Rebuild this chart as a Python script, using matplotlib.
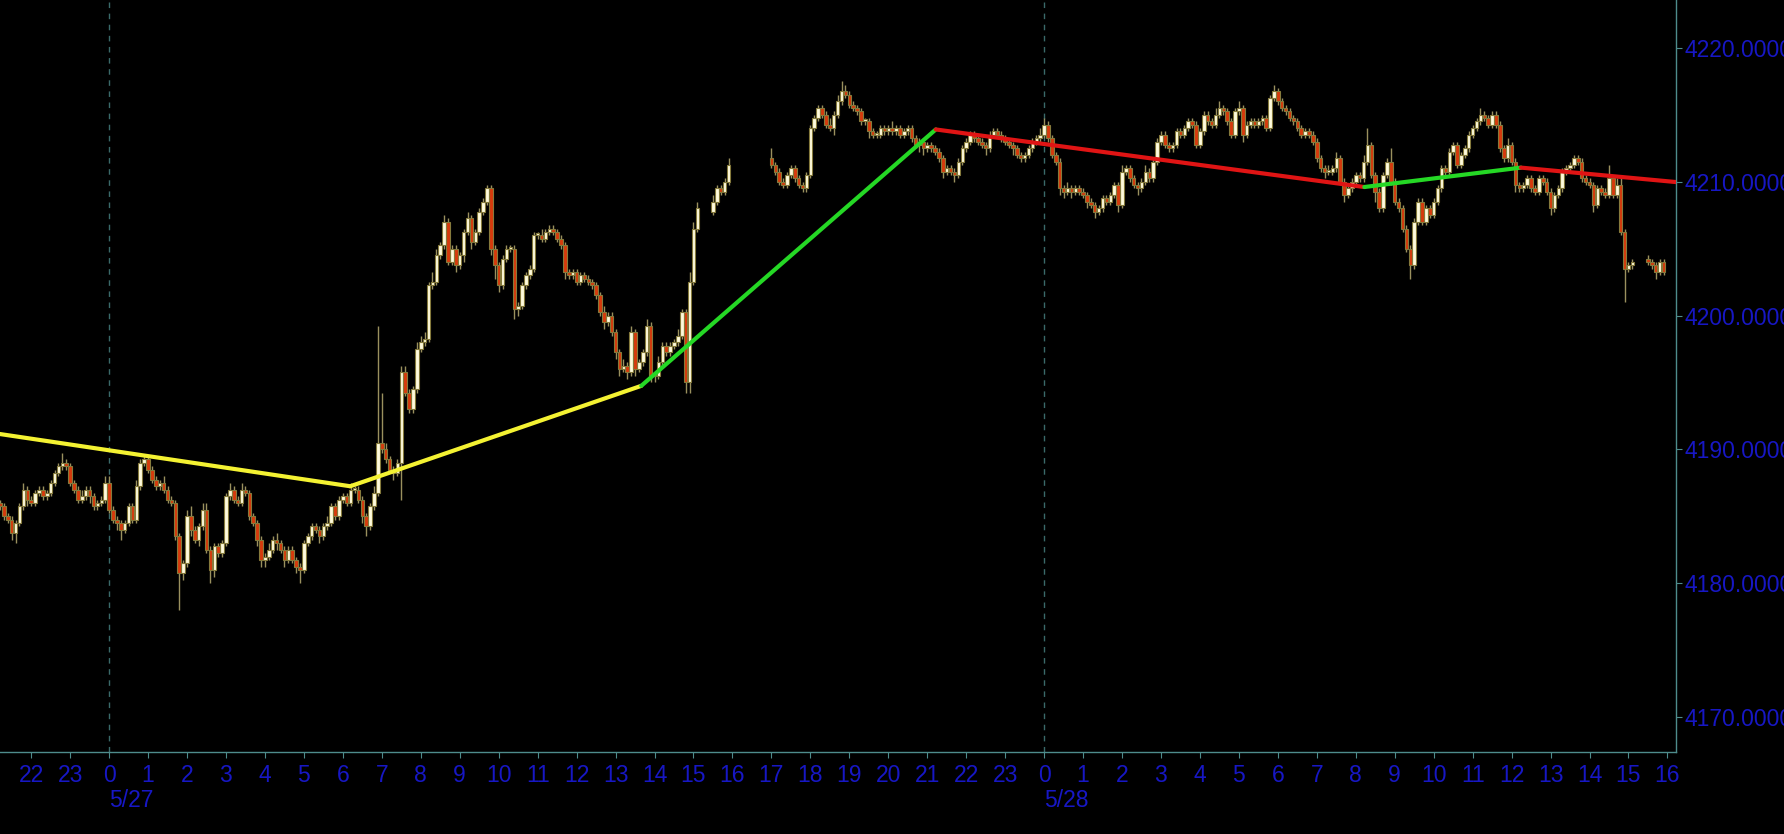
import numpy as np
import matplotlib.pyplot as plt

# 6-minute bars, time axis in hours from 5/27 00:00
# session starts (CME halts 15:15-15:30 and 16:00-17:00)
start_a, start_b, start_c, start_d = -2.8, 15.5, 17.0, 39.5
open_a, open_b, open_c, open_d = 4186.0, 4207.75, 4211.75, 4204.25

close_a = [
    4185.75, 4185.0, 4184.75, 4183.75, 4184.5, 4185.75, 4187.0, 4186.25, 4186.0, 4186.75,
    4187.0, 4186.5, 4186.75, 4187.5, 4188.25, 4188.75, 4189.0, 4188.75, 4187.5, 4187.0,
    4186.25, 4186.5, 4187.0, 4186.5, 4185.75, 4186.0, 4186.25, 4187.5,
    4185.5, 4184.75, 4184.5, 4184.0, 4184.5, 4185.75, 4184.75, 4187.25, 4189.0, 4189.25,  # 0
    4188.5, 4187.75, 4187.25, 4187.5, 4187.0, 4186.25, 4186.0, 4183.5, 4180.75, 4181.5,  # 1
    4185.0, 4184.0, 4183.25, 4184.25, 4185.5, 4182.5, 4181.0, 4182.75, 4182.25, 4183.0,  # 2
    4186.5, 4187.0, 4186.25, 4186.0, 4187.0, 4186.75, 4185.0, 4184.5, 4183.25, 4181.75,  # 3
    4182.0, 4182.5, 4183.25, 4183.0, 4182.5, 4181.75, 4182.5, 4181.75, 4181.25, 4181.0,  # 4
    4183.0, 4183.5, 4184.25, 4184.0, 4183.5, 4184.25, 4184.5, 4185.75, 4185.0, 4186.25,  # 5
    4186.5, 4186.0, 4187.0, 4187.0, 4186.25, 4185.0, 4184.25, 4185.75, 4186.75, 4190.5,  # 6
    4190.0, 4189.25, 4188.5, 4188.25, 4189.0, 4195.75, 4194.25, 4193.0, 4194.5, 4197.5,  # 7
    4198.0, 4198.25, 4202.25, 4202.5, 4204.5, 4205.25, 4207.0, 4204.0, 4205.0, 4203.75,  # 8
    4204.5, 4206.25, 4207.25, 4205.5, 4206.25, 4207.75, 4208.5, 4209.5, 4205.0, 4203.75,  # 9
    4202.25, 4204.25, 4205.0, 4205.0, 4200.5, 4200.75, 4202.25, 4203.0, 4203.5, 4206.0,  # 10
    4206.0, 4205.75, 4206.25, 4206.5, 4206.25, 4205.75, 4205.25, 4203.25, 4203.0, 4203.25,  # 11
    4202.5, 4203.0, 4202.75, 4202.5, 4202.25, 4201.5, 4200.25, 4199.5, 4200.0, 4198.75,  # 12
    4197.25, 4196.0, 4196.25, 4195.75, 4198.75, 4196.0, 4196.5, 4197.25, 4199.25, 4195.5,  # 13
    4195.5, 4196.5, 4197.75, 4197.25, 4197.75, 4198.0, 4198.5, 4200.25, 4195.0, 4202.5,  # 14
    4206.5, 4208.0,
]
up_a = [
    1, 1, 1, 1, 1, 1, 2, 1, 1, 1, 1, 1, 1, 1, 1, 1, 3, 1, 1, 1, 1, 2, 1, 1, 1, 1, 1, 2,
    2, 1, 1, 1, 1, 1, 1, 2, 1, 1,
    1, 1, 1, 1, 2, 1, 1, 1, 1, 1,
    2, 3, 1, 1, 2, 2, 1, 1, 1, 1,
    1, 2, 1, 1, 2, 1, 1, 1, 1, 1,
    1, 2, 1, 2, 1, 1, 1, 1, 1, 1,
    1, 1, 1, 1, 1, 1, 2, 1, 1, 1,
    1, 1, 2, 1, 1, 1, 1, 1, 2, 35,
    15, 2, 1, 1, 1, 2, 2, 1, 1, 2,
    2, 2, 1, 3, 2, 1, 2, 1, 1, 1,
    1, 1, 2, 1, 1, 1, 1, 1, 1, 1,
    1, 1, 1, 1, 1, 1, 1, 1, 1, 1,
    1, 2, 1, 1, 1, 1, 1, 1, 1, 1,
    1, 1, 1, 1, 1, 1, 1, 2, 1, 1,
    1, 1, 2, 1, 2, 1, 1, 1, 2, 1,
    1, 2, 1, 1, 1, 1, 2, 1, 1, 3,
    2, 2,
]
dn_a = [
    1, 1, 1, 2, 3, 1, 1, 2, 1, 1, 1, 1, 1, 1, 1, 1, 1, 1, 1, 1, 1, 1, 1, 2, 1, 1, 1, 1,
    1, 1, 2, 3, 1, 1, 1, 1, 1, 1,
    1, 1, 1, 1, 1, 1, 1, 1, 11, 2,
    1, 2, 1, 2, 1, 1, 4, 2, 1, 1,
    1, 1, 1, 1, 1, 1, 1, 1, 2, 2,
    2, 1, 1, 2, 1, 2, 1, 1, 2, 4,
    1, 1, 1, 1, 2, 1, 1, 1, 1, 1,
    1, 1, 1, 1, 1, 2, 3, 1, 1, 1,
    1, 1, 1, 2, 1, 11, 1, 1, 1, 1,
    1, 1, 1, 1, 1, 1, 1, 1, 1, 2,
    1, 2, 1, 2, 1, 1, 1, 1, 2, 4,
    2, 1, 1, 1, 3, 2, 1, 1, 1, 1,
    1, 1, 1, 1, 1, 1, 1, 2, 1, 1,
    1, 1, 1, 1, 1, 1, 1, 2, 1, 1,
    2, 2, 1, 2, 1, 2, 1, 1, 1, 2,
    2, 1, 1, 1, 1, 1, 1, 1, 3, 3,
    1, 1,
]

close_b = [4208.5, 4209.5, 4209.25, 4210.0, 4211.25]
up_b = [2, 1, 1, 1, 2]
dn_b = [1, 1, 1, 1, 1]

close_c = [
    4211.25, 4210.75, 4210.0, 4209.75, 4210.5, 4211.0, 4210.25, 4209.75, 4209.5, 4210.5,  # 17
    4214.0, 4214.75, 4215.5, 4215.0, 4214.25, 4214.0, 4215.0, 4216.0, 4216.75, 4216.5,  # 18
    4215.75, 4215.5, 4215.25, 4214.5, 4214.5, 4213.75, 4213.5, 4213.5, 4214.0, 4213.75,  # 19
    4214.0, 4213.75, 4214.0, 4213.5, 4213.75, 4214.0, 4213.25, 4212.75, 4213.0, 4212.5,  # 20
    4212.75, 4212.5, 4212.25, 4211.75, 4210.75, 4211.0, 4210.75, 4210.5, 4211.5, 4212.5,  # 21
    4213.0, 4213.5, 4213.25, 4213.0, 4212.75, 4212.5, 4213.5, 4213.75, 4213.5, 4213.25,  # 22
    4213.0, 4212.75, 4212.5, 4212.0, 4211.75, 4212.0, 4212.5, 4213.0, 4213.25, 4213.5,  # 23
    4214.25, 4213.25, 4212.0, 4211.5, 4209.5, 4209.25, 4209.5, 4209.25, 4209.5, 4209.25,  # 0
    4209.0, 4208.5, 4208.25, 4207.75, 4208.0, 4208.75, 4208.5, 4209.0, 4209.75, 4208.25,  # 1
    4210.75, 4211.0, 4210.25, 4209.75, 4209.5, 4210.0, 4210.75, 4210.25, 4211.5, 4213.0,  # 2
    4213.5, 4212.75, 4212.5, 4212.75, 4213.75, 4213.5, 4214.0, 4214.5, 4214.25, 4212.75,  # 3
    4213.75, 4215.0, 4214.5, 4214.25, 4215.0, 4215.5, 4215.25, 4214.5, 4213.5, 4215.25,  # 4
    4215.5, 4213.5, 4214.25, 4214.5, 4214.25, 4214.5, 4214.75, 4214.0, 4216.25, 4216.75,  # 5
    4216.0, 4215.5, 4215.25, 4214.75, 4214.5, 4214.0, 4213.5, 4213.75, 4213.5, 4213.0,  # 6
    4211.75, 4211.0, 4210.75, 4210.75, 4211.0, 4211.75, 4210.0, 4209.0, 4209.5, 4210.0,  # 7
    4210.5, 4210.25, 4211.5, 4212.75, 4210.5, 4209.25, 4208.0, 4210.5, 4211.5, 4210.0,  # 8
    4208.5, 4208.0, 4206.5, 4205.0, 4203.75, 4207.0, 4208.5, 4207.0, 4208.0, 4207.5,  # 9
    4208.5, 4209.5, 4211.0, 4210.75, 4212.25, 4212.75, 4211.25, 4212.0, 4212.5, 4213.5,  # 10
    4214.0, 4214.5, 4215.0, 4214.75, 4214.25, 4215.0, 4214.25, 4212.5, 4211.75, 4212.75,  # 11
    4211.5, 4209.75, 4209.5, 4209.75, 4210.25, 4209.5, 4209.25, 4210.25, 4210.0, 4209.25,  # 12
    4208.0, 4209.0, 4209.5, 4210.75, 4211.0, 4211.25, 4211.75, 4211.5, 4210.25, 4210.0,  # 13
    4209.75, 4208.25, 4209.5, 4209.25, 4209.0, 4210.25, 4209.0, 4209.75, 4206.25, 4203.5,  # 14
    4203.75, 4204.0,
]
up_c = [
    3, 1, 1, 1, 1, 1, 1, 1, 1, 1,
    1, 1, 1, 1, 1, 2, 1, 2, 3, 2,
    1, 1, 1, 1, 1, 1, 1, 1, 1, 1,
    1, 2, 1, 1, 1, 1, 1, 1, 1, 1,
    1, 1, 1, 1, 1, 1, 1, 1, 1, 1,
    1, 1, 1, 1, 1, 1, 1, 1, 1, 1,
    1, 1, 1, 1, 1, 1, 1, 1, 1, 2,
    2, 1, 1, 1, 1, 1, 2, 1, 1, 1,
    1, 1, 1, 1, 1, 1, 1, 1, 1, 1,
    2, 1, 1, 1, 1, 1, 2, 1, 1, 1,
    1, 1, 1, 1, 1, 1, 1, 1, 1, 1,
    1, 1, 1, 1, 2, 2, 1, 1, 1, 1,
    2, 1, 1, 1, 1, 1, 1, 1, 1, 2,
    1, 1, 1, 1, 1, 1, 1, 1, 1, 1,
    1, 1, 1, 2, 1, 2, 1, 1, 1, 1,
    1, 1, 2, 5, 1, 1, 1, 1, 1, 4,
    1, 1, 1, 1, 1, 1, 1, 1, 1, 1,
    1, 1, 1, 1, 1, 1, 1, 1, 1, 1,
    1, 1, 2, 1, 1, 1, 1, 1, 1, 2,
    1, 1, 1, 1, 1, 1, 1, 1, 1, 1,
    1, 1, 1, 1, 1, 1, 1, 1, 1, 1,
    1, 1, 1, 1, 1, 4, 1, 2, 3, 1,
    1, 1,
]
dn_c = [
    1, 1, 1, 1, 1, 1, 1, 1, 1, 1,
    1, 1, 1, 1, 1, 1, 2, 1, 1, 1,
    1, 1, 1, 1, 1, 2, 1, 1, 1, 1,
    1, 1, 1, 1, 1, 1, 1, 1, 2, 2,
    1, 1, 1, 1, 2, 1, 1, 2, 1, 1,
    1, 1, 1, 1, 1, 2, 1, 1, 1, 1,
    1, 1, 2, 1, 1, 1, 1, 1, 1, 1,
    1, 1, 1, 1, 2, 2, 1, 2, 1, 1,
    1, 2, 1, 2, 1, 1, 1, 1, 1, 2,
    1, 1, 1, 1, 2, 1, 1, 1, 1, 1,
    1, 1, 1, 1, 1, 1, 1, 1, 1, 1,
    1, 1, 1, 1, 1, 1, 1, 1, 1, 1,
    1, 2, 1, 1, 1, 1, 1, 1, 1, 1,
    1, 1, 1, 1, 1, 1, 1, 1, 1, 1,
    1, 1, 2, 1, 1, 1, 1, 2, 1, 1,
    1, 1, 1, 1, 1, 3, 1, 1, 1, 1,
    1, 1, 1, 1, 4, 1, 1, 1, 1, 1,
    1, 1, 1, 1, 1, 1, 1, 1, 1, 1,
    1, 1, 1, 1, 1, 1, 1, 1, 1, 1,
    1, 2, 1, 1, 1, 1, 1, 1, 1, 1,
    2, 1, 1, 1, 1, 1, 1, 1, 1, 1,
    1, 2, 1, 1, 1, 1, 1, 1, 1, 10,
    1, 1,
]

close_d = [4204.0, 4203.75, 4203.25, 4204.0, 4203.25]
up_d = [1, 1, 1, 1, 1]
dn_d = [1, 1, 2, 1, 1]

# hand drawn trend lines (hour, price)
trend_h = [-2.8, 6.19, 13.66, 21.22, 32.22, 36.24, 40.3]
trend_p = [4191.15, 4187.25, 4194.75, 4213.9, 4209.6, 4211.05, 4209.95]
trend_col = ['#f4f232', '#f4f232', '#25d825', '#e01414', '#25d825', '#e01414']

day_labels = ['5/27', '5/28']
day_hours = [0, 24]

cream, rust, olive, wick = '#fffbdc', '#d63a0c', '#857a3c', '#9a905e'
blue, teal = '#1717c4', '#4e8c8c'


def session(start, first_open, closes, up, dn):
    c = np.array(closes, dtype=float)
    o = np.r_[first_open, c[:-1]]
    t = start + np.arange(len(c)) / 10.0
    hi = np.maximum(o, c) + np.array(up) * 0.25
    lo = np.minimum(o, c) - np.array(dn) * 0.25
    return t, o, c, hi, lo


fig = plt.figure(figsize=(17.84, 8.34), dpi=100, facecolor='black')
ax = fig.add_axes([0, 82 / 834, 1676 / 1784, 752 / 834], facecolor='black')

for args in [(start_a, open_a, close_a, up_a, dn_a),
             (start_b, open_b, close_b, up_b, dn_b),
             (start_c, open_c, close_c, up_c, dn_c),
             (start_d, open_d, close_d, up_d, dn_d)]:
    t, o, c, hi, lo = session(*args)
    ax.vlines(t, lo, hi, color=wick, lw=1, zorder=2)
    body = np.maximum(np.abs(c - o), 0.15)
    bot = np.minimum(o, c)
    rise = c >= o
    ax.bar(t[rise], body[rise], bottom=bot[rise], width=0.09, color=cream,
           edgecolor=olive, linewidth=0.8, zorder=3)
    ax.bar(t[~rise], body[~rise], bottom=bot[~rise], width=0.09, color=rust,
           edgecolor=olive, linewidth=0.8, zorder=3)

for i in range(len(trend_col)):
    ax.plot(trend_h[i:i + 2], trend_p[i:i + 2], color=trend_col[i], lw=3,
            solid_capstyle='round', zorder=4)

for h in day_hours:
    ax.axvline(h, color='#3a6a6a', lw=1, ls=(0, (4, 4)), zorder=1)

ax.set_xlim(-2.80, 40.22)
ax.set_ylim(4167.4, 4223.57)

for s in ['left', 'top']:
    ax.spines[s].set_visible(False)
for s in ['right', 'bottom']:
    ax.spines[s].set_color(teal)
    ax.spines[s].set_linewidth(1)

fnt = ['Liberation Sans', 'DejaVu Sans']
hours = np.arange(-2, 41)
ax.set_xticks(hours)
ax.set_xticklabels([str(h % 24) for h in hours], family=fnt, fontsize=16.5, color=blue)
yt = np.arange(4170, 4221, 10)
ax.yaxis.tick_right()
ax.set_yticks(yt)
ax.set_yticklabels(['%.4f' % v for v in yt], family=fnt, fontsize=16.5, color=blue)
ax.tick_params(axis='x', length=4, color=teal, pad=5)
ax.tick_params(axis='y', length=4, color=teal, pad=2)

for lab, h in zip(day_labels, day_hours):
    ax.text(h, -0.064, lab, transform=ax.get_xaxis_transform(), ha='left', va='center',
            family=fnt, fontsize=16.5, color=blue)

fig.savefig('out.png', dpi=100, facecolor='black')
